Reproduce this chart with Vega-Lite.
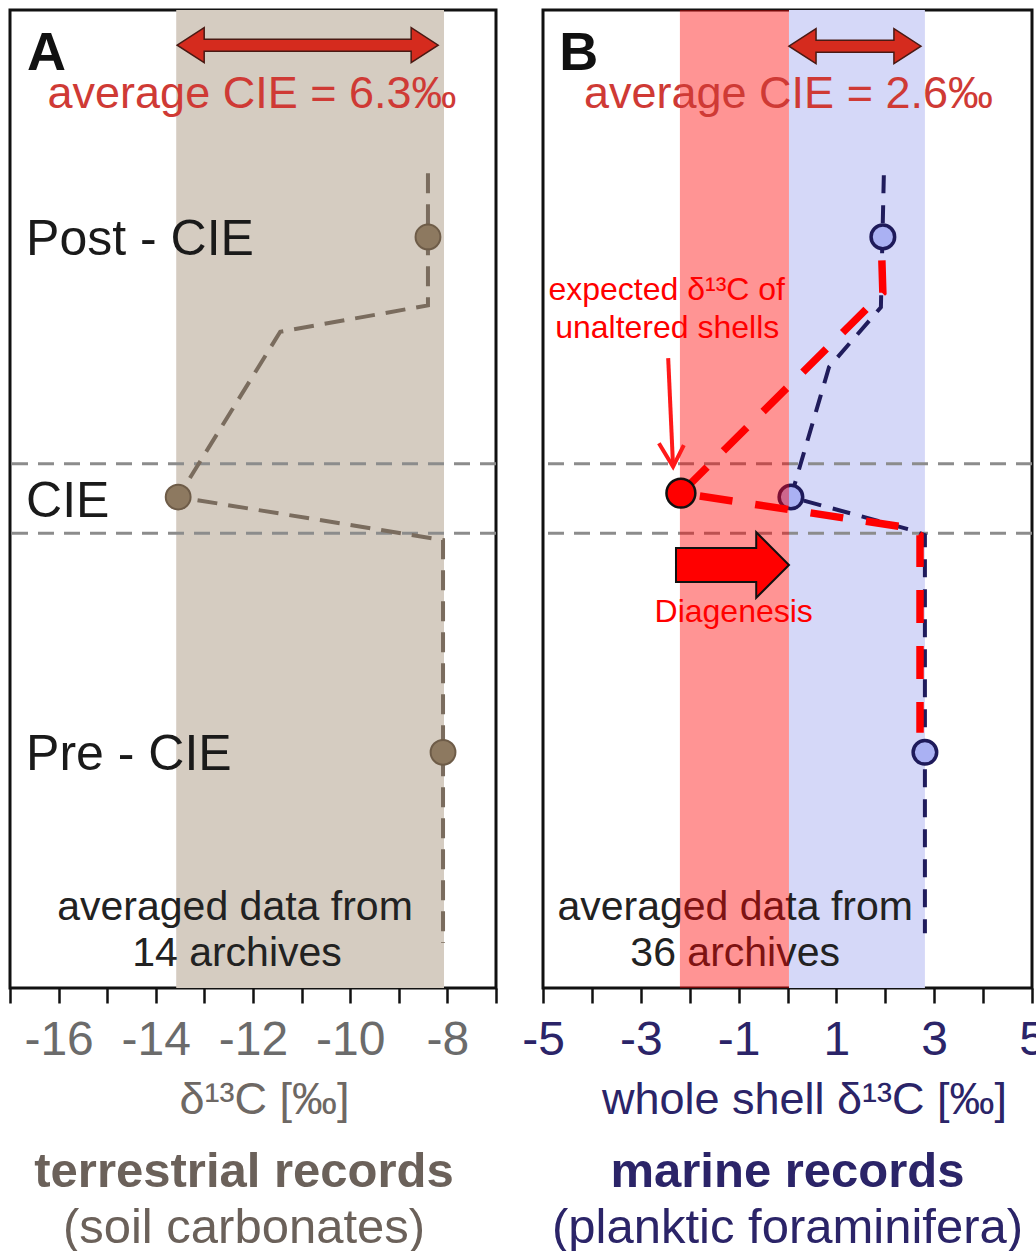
{
  "$schema": "https://vega.github.io/schema/vega-lite/v6.json",
  "padding": {"left": 7, "top": 8, "right": 0, "bottom": 0},
  "background": "white",
  "config": {"font": "Liberation Sans", "view": {"stroke": "#111111", "strokeWidth": 3}},
  "spacing": 47,
  "bounds": "flush",
  "hconcat": [
    {
      "width": 486,
      "height": 978,
      "title": {"text": "terrestrial records", "subtitle": "(soil carbonates)", "orient": "bottom", "anchor": "middle", "dx": -9, "font": "Liberation Sans", "fontSize": 49, "fontWeight": "bold", "color": "#6b615a", "subtitleFont": "Liberation Sans", "subtitleFontSize": 49, "subtitleColor": "#6b615a", "subtitlePadding": 7, "offset": 26},
      "layer": [
        {
          "data": {"values": [{"lo": -13.58, "hi": -8.07}]},
          "mark": {"type": "rect", "color": "#d5ccc1"},
          "encoding": {
            "x": {"field": "lo", "type": "quantitative", "scale": {"domain": [-17, -7], "nice": false, "zero": false},
              "axis": {"values": [-17, -16, -15, -14, -13, -12, -11, -10, -9, -8, -7], "labelExpr": "datum.value % 2 == 0 ? '' + datum.value : ''", "labelFont": "Liberation Sans", "labelFontSize": 48, "labelColor": "#6b6b6b", "labelPadding": 13, "labelFlush": false, "labelOverlap": false, "labelBound": false, "tickSize": 15, "tickWidth": 2.5, "tickColor": "#111111", "domain": false, "grid": false, "title": "δ¹³C [‰]", "titleX": 254, "titleFont": "Liberation Sans", "titleFontSize": 45, "titleFontWeight": "normal", "titleColor": "#6e6864", "titlePadding": 13}},
            "x2": {"field": "hi"}
          }
        },
        {
          "data": {"values": [{"lvl": 53.6}, {"lvl": 46.5}]},
          "mark": {"type": "rule", "color": "#8c8c8c", "strokeWidth": 3, "strokeDash": [16, 10]},
          "encoding": {"y": {"field": "lvl", "type": "quantitative", "scale": {"domain": [0, 100], "nice": false}, "axis": null}}
        },
        {
          "data": {"values": [
            {"step": 1, "x": -8.4, "lvl": 83.3},
            {"step": 2, "x": -8.4, "lvl": 69.8},
            {"step": 3, "x": -11.44, "lvl": 67.1},
            {"step": 4, "x": -13.54, "lvl": 50.2},
            {"step": 5, "x": -8.09, "lvl": 45.8},
            {"step": 6, "x": -8.09, "lvl": 4.6}
          ]},
          "mark": {"type": "line", "color": "#7a6c5e", "strokeWidth": 4, "strokeDash": [20, 11]},
          "encoding": {
            "x": {"field": "x", "type": "quantitative", "scale": {"domain": [-17, -7], "nice": false, "zero": false}},
            "y": {"field": "lvl", "type": "quantitative", "scale": {"domain": [0, 100], "nice": false}, "axis": null},
            "order": {"field": "step", "type": "quantitative"}
          }
        },
        {
          "data": {"values": [
            {"phase": "Post-CIE", "x": -8.4, "lvl": 76.8},
            {"phase": "CIE", "x": -13.54, "lvl": 50.2},
            {"phase": "Pre-CIE", "x": -8.09, "lvl": 24.1}
          ]},
          "mark": {"type": "circle", "size": 616, "color": "#8d7960", "stroke": "#6e5c48", "strokeWidth": 2, "opacity": 1},
          "encoding": {
            "x": {"field": "x", "type": "quantitative", "scale": {"domain": [-17, -7], "nice": false, "zero": false}},
            "y": {"field": "lvl", "type": "quantitative", "scale": {"domain": [0, 100], "nice": false}, "axis": null}
          }
        },
        {
          "data": {"values": [
            {"label": "Post - CIE", "x": -16.67, "lvl": 74.9},
            {"label": "CIE", "x": -16.67, "lvl": 48.2},
            {"label": "Pre - CIE", "x": -16.67, "lvl": 22.3}
          ]},
          "mark": {"type": "text", "align": "left", "baseline": "alphabetic", "fontSize": 50, "color": "#1a1a1a"},
          "encoding": {
            "x": {"field": "x", "type": "quantitative", "scale": {"domain": [-17, -7], "nice": false, "zero": false}},
            "y": {"field": "lvl", "type": "quantitative", "scale": {"domain": [0, 100], "nice": false}, "axis": null},
            "text": {"field": "label"}
          }
        },
        {
          "data": {"values": [
            {"label": "averaged data from", "x": -12.37, "lvl": 6.95},
            {"label": "14 archives", "x": -12.33, "lvl": 2.25}
          ]},
          "mark": {"type": "text", "align": "center", "baseline": "alphabetic", "fontSize": 41, "color": "#222222"},
          "encoding": {
            "x": {"field": "x", "type": "quantitative", "scale": {"domain": [-17, -7], "nice": false, "zero": false}},
            "y": {"field": "lvl", "type": "quantitative", "scale": {"domain": [0, 100], "nice": false}, "axis": null},
            "text": {"field": "label"}
          }
        },
        {
          "data": {"values": [{"x": -10.875, "lvl": 96.4}]},
          "mark": {"type": "point", "shape": "M-1,0L-0.793,-0.134L-0.793,-0.046L0.793,-0.046L0.793,-0.134L1,0L0.793,0.134L0.793,0.046L-0.793,0.046L-0.793,0.134Z", "filled": true, "size": 68121, "color": "#d52b1e", "stroke": "#4a1a14", "strokeWidth": 1.5, "opacity": 1},
          "encoding": {
            "x": {"field": "x", "type": "quantitative", "scale": {"domain": [-17, -7], "nice": false, "zero": false}},
            "y": {"field": "lvl", "type": "quantitative", "scale": {"domain": [0, 100], "nice": false}, "axis": null}
          }
        },
        {
          "data": {"values": [{"label": "average CIE = 6.3‰", "x": -12.02, "lvl": 90.0}]},
          "mark": {"type": "text", "align": "center", "baseline": "alphabetic", "fontSize": 45, "color": "#cf3a35"},
          "encoding": {
            "x": {"field": "x", "type": "quantitative", "scale": {"domain": [-17, -7], "nice": false, "zero": false}},
            "y": {"field": "lvl", "type": "quantitative", "scale": {"domain": [0, 100], "nice": false}, "axis": null},
            "text": {"field": "label"}
          }
        },
        {
          "data": {"values": [{"label": "A", "x": -16.65, "lvl": 93.9}]},
          "mark": {"type": "text", "align": "left", "baseline": "alphabetic", "fontSize": 54, "fontWeight": "bold", "color": "#111111"},
          "encoding": {
            "x": {"field": "x", "type": "quantitative", "scale": {"domain": [-17, -7], "nice": false, "zero": false}},
            "y": {"field": "lvl", "type": "quantitative", "scale": {"domain": [0, 100], "nice": false}, "axis": null},
            "text": {"field": "label"}
          }
        }
      ]
    },
    {
      "width": 489,
      "height": 978,
      "title": {"text": "marine records", "subtitle": "(planktic foraminifera)", "orient": "bottom", "anchor": "middle", "font": "Liberation Sans", "fontSize": 49, "fontWeight": "bold", "color": "#2b2468", "subtitleFont": "Liberation Sans", "subtitleFontSize": 49, "subtitleColor": "#2b2468", "subtitlePadding": 7, "offset": 26},
      "layer": [
        {
          "data": {"values": [{"lo": 0.03, "hi": 2.81}]},
          "mark": {"type": "rect", "color": "#d5d8f8"},
          "encoding": {
            "x": {"field": "lo", "type": "quantitative", "scale": {"domain": [-5, 5], "nice": false, "zero": false},
              "axis": {"values": [-5, -4, -3, -2, -1, 0, 1, 2, 3, 4, 5], "labelExpr": "datum.value % 2 != 0 ? '' + datum.value : ''", "labelFont": "Liberation Sans", "labelFontSize": 48, "labelColor": "#2b2468", "labelPadding": 13, "labelFlush": false, "labelOverlap": false, "labelBound": false, "tickSize": 15, "tickWidth": 2.5, "tickColor": "#111111", "domain": false, "grid": false, "title": "whole shell δ¹³C [‰]", "titleX": 261, "titleFont": "Liberation Sans", "titleFontSize": 45, "titleFontWeight": "normal", "titleColor": "#2b2468", "titlePadding": 13}},
            "x2": {"field": "hi"}
          }
        },
        {
          "data": {"values": [{"lvl": 53.6}, {"lvl": 46.5}]},
          "mark": {"type": "rule", "color": "#8c8c8c", "strokeWidth": 3, "strokeDash": [16, 10]},
          "encoding": {"y": {"field": "lvl", "type": "quantitative", "scale": {"domain": [0, 100], "nice": false}, "axis": null}}
        },
        {
          "data": {"values": [
            {"label": "averaged data from", "x": -1.07, "lvl": 6.95},
            {"label": "36 archives", "x": -1.07, "lvl": 2.25}
          ]},
          "mark": {"type": "text", "align": "center", "baseline": "alphabetic", "fontSize": 41, "color": "#222222"},
          "encoding": {
            "x": {"field": "x", "type": "quantitative", "scale": {"domain": [-5, 5], "nice": false, "zero": false}},
            "y": {"field": "lvl", "type": "quantitative", "scale": {"domain": [0, 100], "nice": false}, "axis": null},
            "text": {"field": "label"}
          }
        },
        {
          "data": {"values": [
            {"step": 1, "x": 1.97, "lvl": 83.1},
            {"step": 2, "x": 1.91, "lvl": 69.6},
            {"step": 3, "x": 0.85, "lvl": 63.5},
            {"step": 4, "x": 0.07, "lvl": 50.2},
            {"step": 5, "x": 2.55, "lvl": 46.8},
            {"step": 6, "x": 2.81, "lvl": 46.3},
            {"step": 7, "x": 2.81, "lvl": 5.6}
          ]},
          "mark": {"type": "line", "color": "#201c5c", "strokeWidth": 4, "strokeDash": [18, 12]},
          "encoding": {
            "x": {"field": "x", "type": "quantitative", "scale": {"domain": [-5, 5], "nice": false, "zero": false}},
            "y": {"field": "lvl", "type": "quantitative", "scale": {"domain": [0, 100], "nice": false}, "axis": null},
            "order": {"field": "step", "type": "quantitative"}
          }
        },
        {
          "data": {"values": [
            {"phase": "Post-CIE", "x": 1.95, "lvl": 76.8},
            {"phase": "CIE", "x": 0.07, "lvl": 50.2},
            {"phase": "Pre-CIE", "x": 2.81, "lvl": 24.1}
          ]},
          "mark": {"type": "circle", "size": 555, "color": "#aab1f3", "stroke": "#1e1a5a", "strokeWidth": 3.5, "opacity": 1},
          "encoding": {
            "x": {"field": "x", "type": "quantitative", "scale": {"domain": [-5, 5], "nice": false, "zero": false}},
            "y": {"field": "lvl", "type": "quantitative", "scale": {"domain": [0, 100], "nice": false}, "axis": null}
          }
        },
        {
          "data": {"values": [{"lo": -2.2, "hi": 0.03}]},
          "mark": {"type": "rect", "color": "#ff0000", "opacity": 0.42},
          "encoding": {
            "x": {"field": "lo", "type": "quantitative", "scale": {"domain": [-5, 5], "nice": false, "zero": false}},
            "x2": {"field": "hi"}
          }
        },
        {
          "data": {"values": [
            {"step": 1, "x": 1.93, "lvl": 74.4},
            {"step": 2, "x": 1.95, "lvl": 71.1},
            {"step": 3, "x": -2.18, "lvl": 50.6},
            {"step": 4, "x": 2.55, "lvl": 47.0},
            {"step": 5, "x": 2.71, "lvl": 46.3},
            {"step": 6, "x": 2.71, "lvl": 26.1}
          ]},
          "mark": {"type": "line", "color": "#ff0000", "strokeWidth": 7.5, "strokeDash": [33, 23]},
          "encoding": {
            "x": {"field": "x", "type": "quantitative", "scale": {"domain": [-5, 5], "nice": false, "zero": false}},
            "y": {"field": "lvl", "type": "quantitative", "scale": {"domain": [0, 100], "nice": false}, "axis": null},
            "order": {"field": "step", "type": "quantitative"}
          }
        },
        {
          "data": {"values": [{"x": -2.18, "lvl": 50.6}]},
          "mark": {"type": "circle", "size": 835, "color": "#ff0000", "stroke": "#111111", "strokeWidth": 2.5, "opacity": 1},
          "encoding": {
            "x": {"field": "x", "type": "quantitative", "scale": {"domain": [-5, 5], "nice": false, "zero": false}},
            "y": {"field": "lvl", "type": "quantitative", "scale": {"domain": [0, 100], "nice": false}, "axis": null}
          }
        },
        {
          "data": {"values": [
            {"part": "shaft", "step": 1, "x": -2.44, "lvl": 64.4},
            {"part": "shaft", "step": 2, "x": -2.34, "lvl": 53.3},
            {"part": "head", "step": 1, "x": -2.63, "lvl": 55.7},
            {"part": "head", "step": 2, "x": -2.34, "lvl": 53.3},
            {"part": "head", "step": 3, "x": -2.12, "lvl": 55.5}
          ]},
          "mark": {"type": "line", "color": "#ff1a1a", "strokeWidth": 4},
          "encoding": {
            "x": {"field": "x", "type": "quantitative", "scale": {"domain": [-5, 5], "nice": false, "zero": false}},
            "y": {"field": "lvl", "type": "quantitative", "scale": {"domain": [0, 100], "nice": false}, "axis": null},
            "detail": {"field": "part"},
            "order": {"field": "step", "type": "quantitative"}
          }
        },
        {
          "data": {"values": [{"x": -1.125, "lvl": 43.25}]},
          "mark": {"type": "point", "shape": "M-1,-0.3L0.42,-0.3L0.42,-0.58L1,0L0.42,0.58L0.42,0.3L-1,0.3Z", "filled": true, "size": 12769, "color": "#ff0000", "stroke": "#111111", "strokeWidth": 2, "opacity": 1},
          "encoding": {
            "x": {"field": "x", "type": "quantitative", "scale": {"domain": [-5, 5], "nice": false, "zero": false}},
            "y": {"field": "lvl", "type": "quantitative", "scale": {"domain": [0, 100], "nice": false}, "axis": null}
          }
        },
        {
          "data": {"values": [
            {"label": "expected δ¹³C of", "x": -2.47, "lvl": 70.3},
            {"label": "unaltered shells", "x": -2.46, "lvl": 66.5}
          ]},
          "mark": {"type": "text", "align": "center", "baseline": "alphabetic", "fontSize": 32, "color": "#ff0000"},
          "encoding": {
            "x": {"field": "x", "type": "quantitative", "scale": {"domain": [-5, 5], "nice": false, "zero": false}},
            "y": {"field": "lvl", "type": "quantitative", "scale": {"domain": [0, 100], "nice": false}, "axis": null},
            "text": {"field": "label"}
          }
        },
        {
          "data": {"values": [{"label": "Diagenesis", "x": -1.1, "lvl": 37.4}]},
          "mark": {"type": "text", "align": "center", "baseline": "alphabetic", "fontSize": 32, "color": "#ff0000"},
          "encoding": {
            "x": {"field": "x", "type": "quantitative", "scale": {"domain": [-5, 5], "nice": false, "zero": false}},
            "y": {"field": "lvl", "type": "quantitative", "scale": {"domain": [0, 100], "nice": false}, "axis": null},
            "text": {"field": "label"}
          }
        },
        {
          "data": {"values": [{"x": 1.38, "lvl": 96.3}]},
          "mark": {"type": "point", "shape": "M-1,0L-0.59,-0.265L-0.59,-0.09L0.59,-0.09L0.59,-0.265L1,0L0.59,0.265L0.59,0.09L-0.59,0.09L-0.59,0.265Z", "filled": true, "size": 17424, "color": "#d52b1e", "stroke": "#4a1a14", "strokeWidth": 1.5, "opacity": 1},
          "encoding": {
            "x": {"field": "x", "type": "quantitative", "scale": {"domain": [-5, 5], "nice": false, "zero": false}},
            "y": {"field": "lvl", "type": "quantitative", "scale": {"domain": [0, 100], "nice": false}, "axis": null}
          }
        },
        {
          "data": {"values": [{"label": "average CIE = 2.6‰", "x": 0.02, "lvl": 90.0}]},
          "mark": {"type": "text", "align": "center", "baseline": "alphabetic", "fontSize": 45, "color": "#cf3a35"},
          "encoding": {
            "x": {"field": "x", "type": "quantitative", "scale": {"domain": [-5, 5], "nice": false, "zero": false}},
            "y": {"field": "lvl", "type": "quantitative", "scale": {"domain": [0, 100], "nice": false}, "axis": null},
            "text": {"field": "label"}
          }
        },
        {
          "data": {"values": [{"label": "B", "x": -4.67, "lvl": 93.9}]},
          "mark": {"type": "text", "align": "left", "baseline": "alphabetic", "fontSize": 54, "fontWeight": "bold", "color": "#111111"},
          "encoding": {
            "x": {"field": "x", "type": "quantitative", "scale": {"domain": [-5, 5], "nice": false, "zero": false}},
            "y": {"field": "lvl", "type": "quantitative", "scale": {"domain": [0, 100], "nice": false}, "axis": null},
            "text": {"field": "label"}
          }
        }
      ]
    }
  ]
}
